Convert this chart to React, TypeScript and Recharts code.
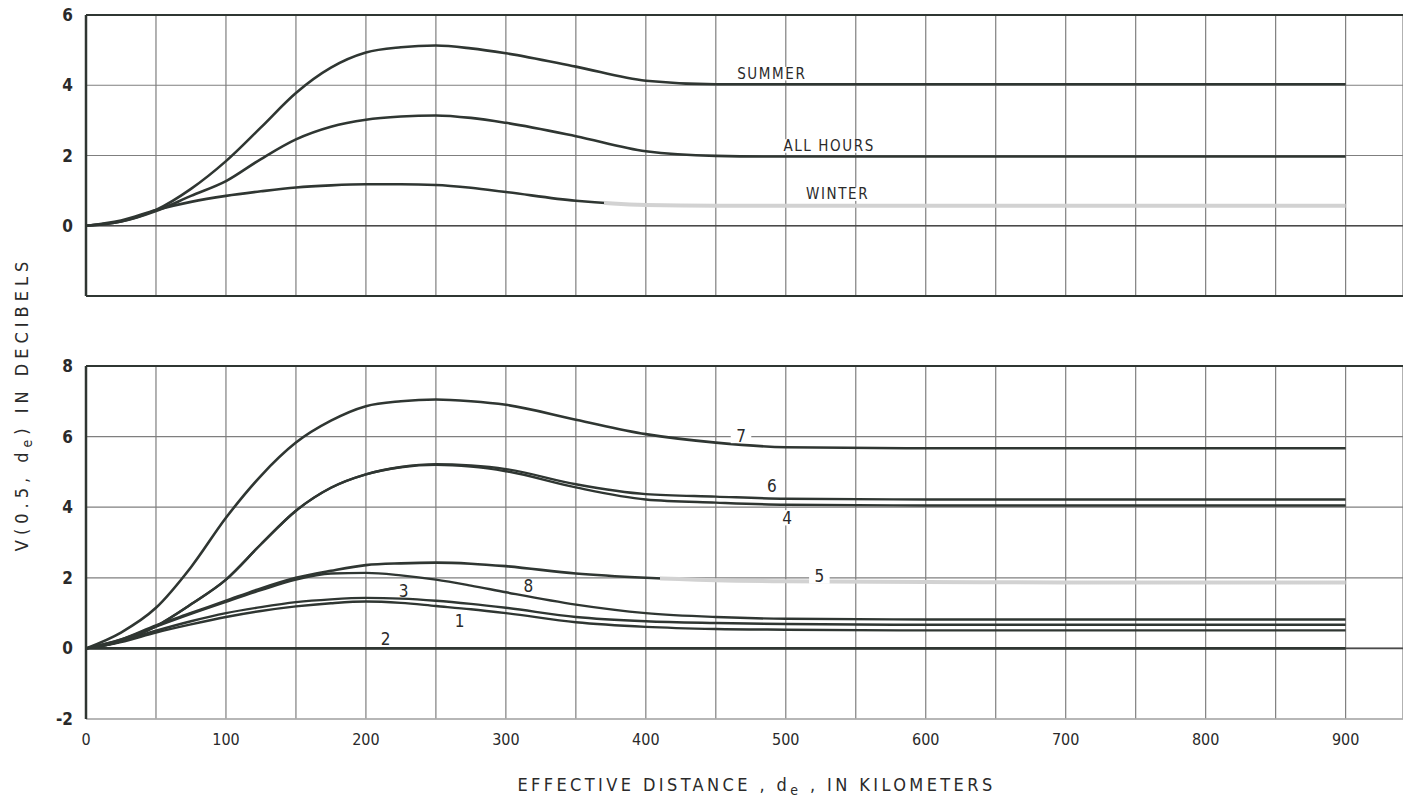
import React from "react";
import { LineChart, Line, XAxis, YAxis, CartesianGrid, ReferenceLine, ReferenceDot } from "recharts";

// distances along the x axis, km
const distances = [0, 25, 50, 75, 100, 125, 150, 175, 200, 225, 250, 275, 300, 350, 400, 450, 500, 600, 700, 800, 900];

// upper panel
const summer = [0, 0.12, 0.45, 1.05, 1.84, 2.8, 3.78, 4.5, 4.93, 5.08, 5.13, 5.05, 4.91, 4.53, 4.13, 4.03, 4.03, 4.03, 4.03, 4.03, 4.03];
const allHours = [0, 0.12, 0.42, 0.85, 1.27, 1.9, 2.46, 2.82, 3.02, 3.11, 3.14, 3.07, 2.93, 2.55, 2.12, 1.99, 1.97, 1.97, 1.97, 1.97, 1.97];
const winter = [0, 0.15, 0.45, 0.68, 0.85, 0.98, 1.09, 1.15, 1.18, 1.18, 1.16, 1.08, 0.96, 0.71, 0.59, 0.57, 0.57, 0.57, 0.57, 0.57, 0.57];

// lower panel, numbered curves
const curve1 = [0, 0.18, 0.45, 0.68, 0.89, 1.06, 1.19, 1.28, 1.33, 1.29, 1.2, 1.11, 1.0, 0.74, 0.61, 0.55, 0.53, 0.51, 0.51, 0.51, 0.51];
const curve2 = [0, 0, 0, 0, 0, 0, 0, 0, 0, 0, 0, 0, 0, 0, 0, 0, 0, 0, 0, 0, 0];
const curve3 = [0, 0.2, 0.5, 0.77, 1.0, 1.17, 1.31, 1.39, 1.43, 1.41, 1.35, 1.26, 1.15, 0.89, 0.77, 0.72, 0.69, 0.67, 0.67, 0.67, 0.67];
const curve4 = [0, 0.2, 0.63, 1.25, 1.95, 2.95, 3.9, 4.55, 4.93, 5.13, 5.2, 5.15, 5.02, 4.56, 4.22, 4.13, 4.07, 4.05, 4.05, 4.05, 4.05];
const curve5 = [0, 0.25, 0.65, 1.0, 1.35, 1.7, 2.0, 2.2, 2.36, 2.41, 2.43, 2.4, 2.33, 2.12, 2.0, 1.93, 1.9, 1.88, 1.87, 1.87, 1.87];
const curve6 = [0, 0.2, 0.63, 1.25, 1.95, 2.95, 3.9, 4.55, 4.93, 5.14, 5.22, 5.18, 5.08, 4.65, 4.37, 4.3, 4.24, 4.22, 4.22, 4.22, 4.22];
const curve7 = [0, 0.45, 1.15, 2.3, 3.7, 4.89, 5.83, 6.45, 6.86, 7.0, 7.05, 7.0, 6.9, 6.48, 6.07, 5.83, 5.7, 5.67, 5.67, 5.67, 5.67];
const curve8 = [0, 0.25, 0.62, 0.98, 1.32, 1.65, 1.95, 2.12, 2.14, 2.07, 1.95, 1.78, 1.59, 1.24, 1.0, 0.89, 0.84, 0.82, 0.82, 0.82, 0.82];

// axis ticks
const gridX = [0, 50, 100, 150, 200, 250, 300, 350, 400, 450, 500, 550, 600, 650, 700, 750, 800, 850, 900];
const topTicksY = [-2, 0, 2, 4, 6];
const bottomTicksY = [-2, 0, 2, 4, 6, 8];

// curve annotations [text, km, dB]
const topTags: [string, number, number][] = [
  ["SUMMER", 490, 4.33],
  ["ALL HOURS", 531, 2.27],
  ["WINTER", 537, 0.9],
];
const bottomTags: [string, number, number, boolean][] = [
  ["7", 468, 6.03, true],
  ["6", 490, 4.6, true],
  ["4", 501, 3.7, true],
  ["5", 524, 2.05, true],
  ["8", 316, 1.76, false],
  ["3", 227, 1.62, false],
  ["1", 267, 0.77, false],
  ["2", 214, 0.28, false],
];

// where the scanned line turns pale
const winterFadeFrom = 370;
const curve5FadeFrom = 410;

const topRows = distances.map((d, i) => ({ d, summer: summer[i], allHours: allHours[i], winter: winter[i] }));
const bottomRows = distances.map((d, i) => ({
  d,
  c1: curve1[i],
  c2: curve2[i],
  c3: curve3[i],
  c4: curve4[i],
  c5: curve5[i],
  c6: curve6[i],
  c7: curve7[i],
  c8: curve8[i],
}));

const FONT = "'Liberation Sans Narrow', 'DejaVu Sans Condensed', 'DejaVu Sans', sans-serif";
const INK = "#2f3632";
const FADED = "#d2d2d2";
const GRID = "#7f7f7f";
const X_MAX = 941;
const lastKm = distances[distances.length - 1];

const tagContent = (text: string, size: number, spacing: number, bg: boolean) => (props: any) => {
  const { viewBox } = props;
  const cx = viewBox.x + viewBox.width / 2;
  const cy = viewBox.y + viewBox.height / 2;
  const w = text.length * (size * 0.62 + spacing) + 10;
  return (
    <g>
      {bg && <rect x={cx - w / 2} y={cy - size * 0.45} width={w} height={size * 0.9} fill="#fff" />}
      <text
        x={cx}
        y={cy}
        textAnchor="middle"
        dominantBaseline="central"
        fontFamily={FONT}
        fontSize={size}
        letterSpacing={spacing}
        fill="#2a2a2a"
      >
        {text}
      </text>
    </g>
  );
};

// dark up to `from`, then hidden (dark part) / pale (faded part)
const FadeGradients = ({ id, from }: { id: string; from: number }) => (
  <>
    <linearGradient id={`${id}-ink`} x1="0" y1="0" x2="1" y2="0">
      <stop offset={from / lastKm} stopColor={INK} />
      <stop offset={from / lastKm} stopColor={INK} stopOpacity={0} />
    </linearGradient>
    <linearGradient id={`${id}-pale`} x1="0" y1="0" x2="1" y2="0">
      <stop offset={from / lastKm} stopColor={FADED} stopOpacity={0} />
      <stop offset={from / lastKm} stopColor={FADED} />
    </linearGradient>
  </>
);

const yTick = { fontFamily: FONT, fontSize: 17, fontWeight: 700, fill: "#2a2a2a" };

const TopPanel = () => (
  <LineChart width={1403} height={300} data={topRows} margin={{ top: 15, right: 0, left: 0, bottom: 4 }}>
    <defs>
      <FadeGradients id="fadeWinter" from={winterFadeFrom} />
    </defs>
    <CartesianGrid stroke={GRID} strokeWidth={1.2} />
    <XAxis dataKey="d" type="number" domain={[0, X_MAX]} ticks={gridX} hide />
    <YAxis
      type="number"
      domain={[-2, 6]}
      ticks={topTicksY}
      width={86}
      tickSize={0}
      tickMargin={13}
      tick={yTick}
      axisLine={{ stroke: INK, strokeWidth: 2.5 }}
    />
    <ReferenceLine y={6} stroke={INK} strokeWidth={2} />
    <ReferenceLine y={-2} stroke={INK} strokeWidth={1.8} />
    <ReferenceLine y={0} stroke="#4a4a4a" strokeWidth={1.6} />
    {topTags.map(([t, x, y]) => (
      <ReferenceDot key={t} x={x} y={y} r={0} fill="none" stroke="none" label={{ content: tagContent(t, 15, 1.6, true) }} />
    ))}
    <Line dataKey="summer" type="monotone" stroke={INK} strokeWidth={2.6} dot={false} isAnimationActive={false} />
    <Line dataKey="allHours" type="monotone" stroke={INK} strokeWidth={2.6} dot={false} isAnimationActive={false} />
    <Line dataKey="winter" type="monotone" stroke="url(#fadeWinter-pale)" strokeWidth={4} dot={false} isAnimationActive={false} />
    <Line dataKey="winter" type="monotone" stroke="url(#fadeWinter-ink)" strokeWidth={2.6} dot={false} isAnimationActive={false} />
  </LineChart>
);

const titleContent = (props: any) => {
  const { viewBox } = props;
  const cx = viewBox.x + viewBox.width / 2 + 12;
  return (
    <text x={cx} y={viewBox.y + 72} textAnchor="middle" fontFamily={FONT} fontSize={18} letterSpacing={3.4} fill="#2a2a2a">
      <tspan>EFFECTIVE DISTANCE , d</tspan>
      <tspan dy={4} fontSize={14}>e</tspan>
      <tspan dy={-4}> , IN KILOMETERS</tspan>
    </text>
  );
};

const BottomPanel = () => (
  <LineChart width={1403} height={474} data={bottomRows} margin={{ top: 36, right: 0, left: 0, bottom: 0 }}>
    <defs>
      <FadeGradients id="fadeFive" from={curve5FadeFrom} />
    </defs>
    <CartesianGrid stroke={GRID} strokeWidth={1.2} />
    <XAxis
      dataKey="d"
      type="number"
      domain={[0, X_MAX]}
      ticks={gridX}
      height={85}
      tickSize={0}
      tickMargin={15}
      interval={0}
      tickFormatter={(v: number) => (v % 100 === 0 ? String(v) : "")}
      tick={{ fontFamily: FONT, fontSize: 16, fill: "#2a2a2a" }}
      axisLine={{ stroke: "#b5b5b5", strokeWidth: 1.5 }}
      label={{ content: titleContent }}
    />
    <YAxis
      type="number"
      domain={[-2, 8]}
      ticks={bottomTicksY}
      width={86}
      tickSize={0}
      tickMargin={13}
      tick={yTick}
      axisLine={{ stroke: INK, strokeWidth: 2.5 }}
    />
    <ReferenceLine y={8} stroke={INK} strokeWidth={2} />
    <ReferenceLine y={0} stroke="#4a4a4a" strokeWidth={1.6} />
    {bottomTags.map(([t, x, y, bg]) => (
      <ReferenceDot key={t} x={x} y={y} r={0} fill="none" stroke="none" label={{ content: tagContent(t, 17, 0, bg) }} />
    ))}
    <Line dataKey="c2" type="monotone" stroke={INK} strokeWidth={2.6} dot={false} isAnimationActive={false} />
    <Line dataKey="c1" type="monotone" stroke={INK} strokeWidth={2.4} dot={false} isAnimationActive={false} />
    <Line dataKey="c3" type="monotone" stroke={INK} strokeWidth={2.4} dot={false} isAnimationActive={false} />
    <Line dataKey="c8" type="monotone" stroke={INK} strokeWidth={2.4} dot={false} isAnimationActive={false} />
    <Line dataKey="c5" type="monotone" stroke="url(#fadeFive-pale)" strokeWidth={4} dot={false} isAnimationActive={false} />
    <Line dataKey="c5" type="monotone" stroke="url(#fadeFive-ink)" strokeWidth={2.6} dot={false} isAnimationActive={false} />
    <Line dataKey="c4" type="monotone" stroke={INK} strokeWidth={2.4} dot={false} isAnimationActive={false} />
    <Line dataKey="c6" type="monotone" stroke={INK} strokeWidth={2.4} dot={false} isAnimationActive={false} />
    <Line dataKey="c7" type="monotone" stroke={INK} strokeWidth={2.6} dot={false} isAnimationActive={false} />
  </LineChart>
);

export default function App() {
  return (
    <div style={{ position: "absolute", left: 0, top: 0, width: 1403, height: 804, background: "#fff", overflow: "hidden" }}>
      <div style={{ position: "absolute", left: 0, top: 0 }}>
        <TopPanel />
      </div>
      <div style={{ position: "absolute", left: 0, top: 330 }}>
        <BottomPanel />
      </div>
      <svg width={44} height={804} style={{ position: "absolute", left: 0, top: 0 }}>
        <text
          transform="translate(28, 404) rotate(-90)"
          textAnchor="middle"
          fontFamily={FONT}
          fontSize={18}
          letterSpacing={5}
          fill="#2a2a2a"
        >
          <tspan>V(0.5, d</tspan>
          <tspan dy={4} fontSize={14}>e</tspan>
          <tspan dy={-4}>) IN DECIBELS</tspan>
        </text>
      </svg>
    </div>
  );
}
